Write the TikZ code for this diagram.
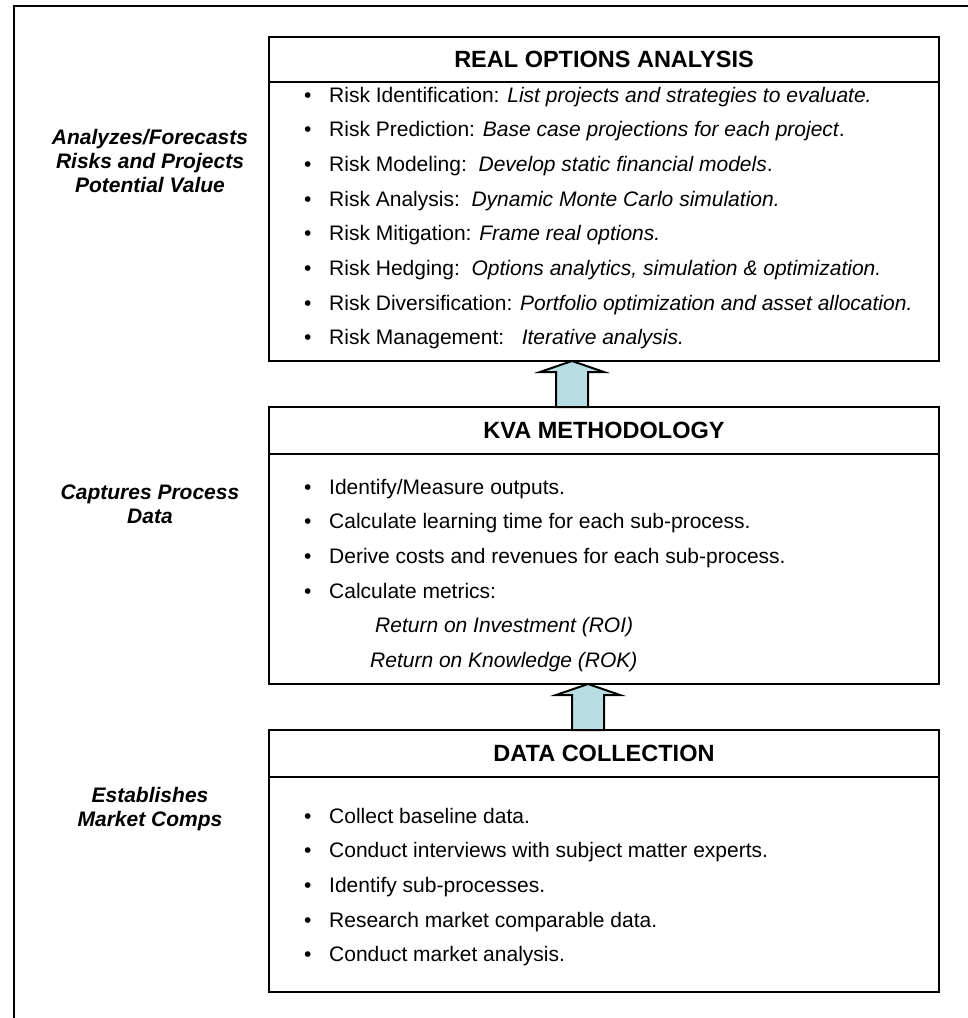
\documentclass[tikz,border=0pt]{standalone}
\usepackage{fontspec}
\setmainfont{Liberation Sans}
\usetikzlibrary{positioning,calc}

\definecolor{arrowfill}{RGB}{184,222,227}

% block arrow from the top of one box up to the bottom of the box above
\newcommand{\flowarrow}[3]{%
  \draw[liftarrow] ($(#2.north)+(#3-16,0)$) -- ($(#1.south)+(#3-16,11)$)
    -- ($(#1.south)+(#3-32,11)$) -- ($(#1.south)+(#3,0)$)
    -- ($(#1.south)+(#3+32,11)$) -- ($(#1.south)+(#3+16,11)$)
    -- ($(#2.north)+(#3+16,0)$) -- cycle;}

\begin{document}
\begin{tikzpicture}[x=1pt,y=-1pt,
    box/.style={draw, line width=2pt, minimum width=670pt, inner sep=0pt, outer sep=0pt},
    headbox/.style={draw, line width=1.6pt, minimum width=670pt, inner sep=0pt, outer sep=0pt, anchor=north, font=\fontsize{23.5}{26}\selectfont\bfseries},
    item/.style={anchor=west, inner sep=0pt, text height=15pt, text depth=5pt, font=\fontsize{21}{25}\selectfont},
    side/.style={align=center, inner sep=0pt, font=\fontsize{21}{24}\selectfont\bfseries\itshape},
    liftarrow/.style={draw, line width=2pt, fill=arrowfill, line join=miter}]
    \useasboundingbox (0,0) rectangle (968,1018);
    \draw[line width=2.3pt] (14,1020) |- (970,6);

    \node[box, minimum height=324pt] (roa) at (604,199) {};
    \node[headbox, minimum height=45pt] (roat) at (roa.north) {REAL OPTIONS ANALYSIS};
    \node[box, minimum height=277pt] (kva) at (604,545.5) {};
    \node[headbox, minimum height=47pt] (kvat) at (kva.north) {KVA METHODOLOGY};
    \node[box, minimum height=262pt] (dc) at (604,861) {};
    \node[headbox, minimum height=47pt] (dct) at (dc.north) {DATA COLLECTION};

    \node[side] (lroa) at (150,161) {Analyzes/Forecasts\\Risks and Projects\\Potential Value};
    \node[side] (lkva) at (150,504) {Captures Process\\Data};
    \node[side] (ldc) at (150,809) {Establishes\\Market Comps};

    \node[item] (roa1) at (304,97) {\makebox[25pt][l]{\textbullet}Risk Identification: \emph{List projects and strategies to evaluate.}};
    \node[item] (roa2) at (304,131.7) {\makebox[25pt][l]{\textbullet}Risk Prediction: \emph{Base case projections for each project}.};
    \node[item] (roa3) at (304,166.4) {\makebox[25pt][l]{\textbullet}Risk Modeling:\ \ \emph{Develop static financial models}.};
    \node[item] (roa4) at (304,201.1) {\makebox[25pt][l]{\textbullet}Risk Analysis:\ \ \emph{Dynamic Monte Carlo simulation.}};
    \node[item] (roa5) at (304,235.8) {\makebox[25pt][l]{\textbullet}Risk Mitigation: \emph{Frame real options.}};
    \node[item] (roa6) at (304,270.5) {\makebox[25pt][l]{\textbullet}Risk Hedging:\ \ \emph{Options analytics, simulation \& optimization.}};
    \node[item] (roa7) at (304,305.2) {\makebox[25pt][l]{\textbullet}Risk Diversification: \emph{Portfolio optimization and asset allocation.}};
    \node[item] (roa8) at (304,339.9) {\makebox[25pt][l]{\textbullet}Risk Management:\ \ \ \emph{Iterative analysis.}};

    \node[item] (kva1) at (304,489) {\makebox[25pt][l]{\textbullet}Identify/Measure outputs.};
    \node[item] (kva2) at (304,523.7) {\makebox[25pt][l]{\textbullet}Calculate learning time for each sub-process.};
    \node[item] (kva3) at (304,558.4) {\makebox[25pt][l]{\textbullet}Derive costs and revenues for each sub-process.};
    \node[item] (kva4) at (304,593.1) {\makebox[25pt][l]{\textbullet}Calculate metrics:};
    \node[item] (kvaroi) at (375,627.8) {\emph{Return on Investment (ROI)}};
    \node[item] (kvarok) at (370,662.5) {\emph{Return on Knowledge (ROK)}};

    \node[item] (dc1) at (304,818) {\makebox[25pt][l]{\textbullet}Collect baseline data.};
    \node[item] (dc2) at (304,852.7) {\makebox[25pt][l]{\textbullet}Conduct interviews with subject matter experts.};
    \node[item] (dc3) at (304,887.4) {\makebox[25pt][l]{\textbullet}Identify sub-processes.};
    \node[item] (dc4) at (304,922.1) {\makebox[25pt][l]{\textbullet}Research market comparable data.};
    \node[item] (dc5) at (304,956.8) {\makebox[25pt][l]{\textbullet}Conduct market analysis.};

    \flowarrow{roa}{kva}{-32}
    \flowarrow{kva}{dc}{-16}
\end{tikzpicture}
\end{document}
